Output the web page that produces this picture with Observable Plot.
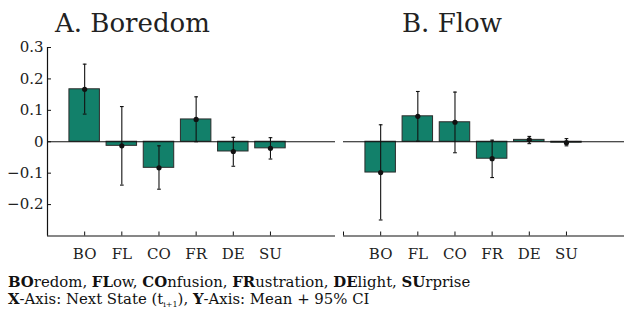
<!DOCTYPE html>
<html>
<head>
<meta charset="utf-8">
<script src="https://cdn.jsdelivr.net/npm/d3@7"></script>
<script src="https://cdn.jsdelivr.net/npm/@observablehq/plot@0.6"></script>
<style>
  html, body { margin: 0; padding: 0; background: #fff; overflow: hidden; }
  #wrap { position: relative; width: 624px; height: 314px; font-family: "DejaVu Serif", serif; color: #222; }
  .title { position: absolute; top: 6px; font-size: 26px; line-height: 34px; white-space: nowrap; color: #222; }
  .panel { position: absolute; top: 0; }
  #caption { position: absolute; left: 8px; top: 274px; font-size: 14.9px; line-height: 17px; white-space: nowrap; color: #111; }
  #caption b { font-weight: bold; }
  sub { font-size: 8px; vertical-align: -3px; line-height: 0; }
</style>
</head>
<body>
<div id="wrap">
  <div class="title" style="left:55px">A. Boredom</div>
  <div class="title" style="left:402px">B. Flow</div>
  <div id="panelA" class="panel" style="left:0px"></div>
  <div id="panelB" class="panel" style="left:335px"></div>
  <div id="caption">
    <div><b>BO</b>redom, <b>FL</b>ow, <b>CO</b>nfusion, <b>FR</b>ustration, <b>DE</b>light, <b>SU</b>rprise</div>
    <div><b>X</b>-Axis: Next State (t<sub>i+1</sub>), <b>Y</b>-Axis: Mean + 95% CI</div>
  </div>
</div>
<script>
const categories = ["BO", "FL", "CO", "FR", "DE", "SU"];
// Panel A: Boredom
const boredomMean = [0.167, -0.013, -0.083, 0.071, -0.031, -0.021];
const boredomLow  = [0.088, -0.138, -0.151, 0.000, -0.078, -0.055];
const boredomHigh = [0.247, 0.112, -0.013, 0.143, 0.014, 0.013];
// Panel B: Flow
const flowMean = [-0.098, 0.081, 0.062, -0.054, 0.006, -0.003];
const flowLow  = [-0.249, 0.002, -0.035, -0.114, -0.006, -0.013];
const flowHigh = [0.054, 0.160, 0.158, 0.005, 0.017, 0.010];
const yTicks = [-0.2, -0.1, 0, 0.1, 0.2, 0.3];

const barFill = "#12806a";
const font = "DejaVu Serif";

function rows(mean, low, high) {
  return categories.map((c, i) => ({cat: c, pos: i + 1, mean: mean[i], low: low[i], high: high[i]}));
}

function panel(data, {width, domainMax, marginLeft, showY}) {
  const xTicks = d3.range(0, categories.length + 1);
  const label = t => (t >= 1 && t <= categories.length) ? categories[t - 1] : "";
  const marks = [
    Plot.rectY(data, {x1: d => d.pos - 0.41, x2: d => d.pos + 0.41, y1: 0, y2: "mean", fill: barFill, stroke: "#2b2b2b", strokeWidth: 1}),
    Plot.ruleY([0], {stroke: "#111", strokeWidth: 1}),
    Plot.ruleY([-0.3], {stroke: "#111", strokeWidth: 1.2}),
    Plot.ruleX(data, {x: "pos", y1: "low", y2: "high", stroke: "#111", strokeWidth: 1.1}),
    Plot.link(data, {x1: d => d.pos - 0.05, x2: d => d.pos + 0.05, y1: "high", y2: "high", stroke: "#111", strokeWidth: 1.1}),
    Plot.link(data, {x1: d => d.pos - 0.05, x2: d => d.pos + 0.05, y1: "low", y2: "low", stroke: "#111", strokeWidth: 1.1}),
    Plot.dot(data, {x: "pos", y: "mean", r: 2.6, fill: "#111"}),
    Plot.axisX({ticks: xTicks, tickSize: -4, tickFormat: () => "", stroke: "#111", label: null}),
    Plot.axisX({ticks: xTicks, tickSize: 0, tickPadding: 12, tickFormat: label, fontSize: 15, fill: "#222", label: null})
  ];
  if (showY) {
    marks.push(
      Plot.ruleX([0], {y1: -0.3, y2: 0.3, stroke: "#111", strokeWidth: 1.2}),
      Plot.axisY({ticks: yTicks, tickSize: -4, tickFormat: () => "", stroke: "#111", label: null}),
      Plot.axisY({ticks: yTicks, tickSize: 0, tickPadding: 4, fontSize: 15, fill: "#222", label: null,
        tickFormat: d => d === 0 ? "0" : d3.format(".1f")(d).replace("-", "−")})
    );
  }
  return Plot.plot({
    width, height: 265,
    marginTop: 47, marginBottom: 29.5, marginLeft, marginRight: 0,
    style: {fontFamily: font, background: "transparent", overflow: "visible"},
    x: {type: "linear", domain: [0, domainMax], axis: null, label: null},
    y: {domain: [-0.3, 0.3], axis: null, label: null},
    marks
  });
}

document.getElementById("panelA").appendChild(panel(rows(boredomMean, boredomLow, boredomHigh), {width: 335, domainMax: 7.75, marginLeft: 47, showY: true}));
document.getElementById("panelB").appendChild(panel(rows(flowMean, flowLow, flowHigh), {width: 289, domainMax: 281 / 37.16, marginLeft: 8, showY: false}));
</script>
</body>
</html>
